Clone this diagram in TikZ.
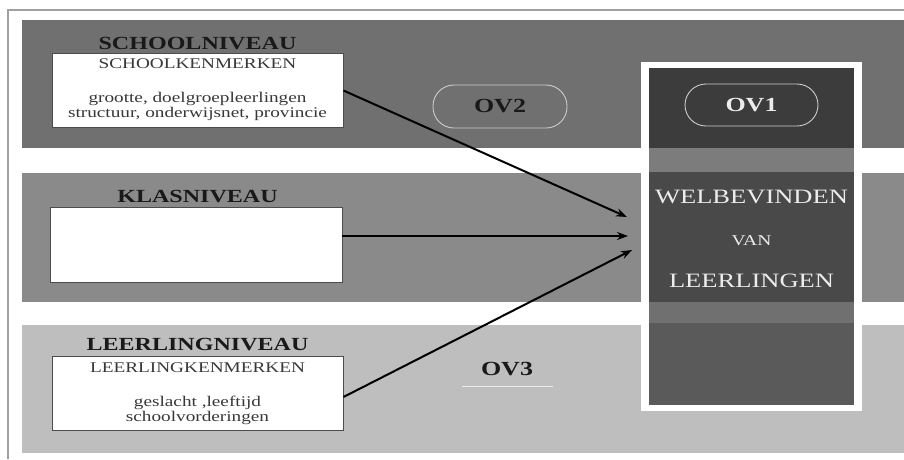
\documentclass[tikz,border=0pt]{standalone}
\usepackage{fontspec}
\setmainfont{Liberation Serif}[FakeStretch=1.3]
\usetikzlibrary{arrows.meta}

\definecolor{framegray}{HTML}{A0A0A0}
\definecolor{bandschool}{HTML}{707070}
\definecolor{bandklas}{HTML}{8A8A8A}
\definecolor{bandleerling}{HTML}{BEBEBE}
\definecolor{coreA}{HTML}{3C3C3C}
\definecolor{coreStripA}{HTML}{7C7C7C}
\definecolor{coreB}{HTML}{494949}
\definecolor{coreStripB}{HTML}{707070}
\definecolor{coreC}{HTML}{5A5A5A}
\definecolor{boxtext}{HTML}{383838}
\definecolor{lighttext}{HTML}{ECECEC}

\tikzset{
  kbox/.style={draw=black!70, line width=0.9pt, fill=white, inner sep=0pt},
  leveltitle/.style={anchor=base, font=\fontsize{18.5}{20}\selectfont\bfseries, text=black!90},
  boxline/.style={anchor=base, font=\fontsize{14.8}{16}\selectfont, text=boxtext},
  coretext/.style={anchor=base, font=\fontsize{20.4}{22}\selectfont, text=lighttext},
  ovpill/.style={rounded corners=21pt, line width=0.9pt, inner sep=0pt,
                 font=\fontsize{20}{22}\selectfont\bfseries},
  flow/.style={line width=2pt, -{Stealth[length=11pt,width=8pt]}}
}

\begin{document}
\begin{tikzpicture}[x=1pt,y=-1pt]
\useasboundingbox (0,0) rectangle (904,459);
\fill[white] (0,0) rectangle (904,459);

% outer frame
\draw[framegray, line width=1.2pt] (8,459) -- (8,10) -- (904,10);

% the three level bands
\fill[bandschool]   (22,20)  rectangle (904,148);
\fill[bandklas]     (22,173) rectangle (904,302);
\fill[bandleerling] (22,325) rectangle (904,453);

% central outcome column
\fill[white]      (641,62)  rectangle (862,411);
\fill[coreA]      (649,68)  rectangle (854,148);
\fill[coreStripA] (649,148) rectangle (854,172);
\fill[coreB]      (649,172) rectangle (854,302);
\fill[coreStripB] (649,302) rectangle (854,323);
\fill[coreC]      (649,323) rectangle (854,405);

% level titles
\node[leveltitle] (tschool)   at (197.5,49)    {SCHOOLNIVEAU};
\node[leveltitle] (tklas)     at (197.5,202.5) {KLASNIVEAU};
\node[leveltitle] (tleerling) at (197.5,350.5) {LEERLINGNIVEAU};

% characteristic boxes
\node[kbox, minimum width=291pt, minimum height=74pt] (school)   at (197.5,90.5) {};
\node[kbox, minimum width=292pt, minimum height=75pt] (klas)     at (196,244.5)  {};
\node[kbox, minimum width=291pt, minimum height=74pt] (leerling) at (197.5,393.5) {};

\node[boxline] (s1) at (197.5,68.3)  {SCHOOLKENMERKEN};
\node[boxline] (s2) at (197.5,102.3) {grootte, doelgroepleerlingen};
\node[boxline] (s3) at (197.5,117.5) {structuur, onderwijsnet, provincie};

\node[boxline] (l1) at (197.5,372.3) {LEERLINGKENMERKEN};
\node[boxline] (l2) at (197.5,406)   {geslacht ,leeftijd};
\node[boxline] (l3) at (197.5,421.7) {schoolvorderingen};

% outcome labels
\node[ovpill, draw=black!20, text=lighttext, minimum width=133pt, minimum height=42pt]
  (ov1) at (751.5,105) {OV1};
\node[ovpill, draw=black!20, text=black!90, minimum width=134pt, minimum height=43pt]
  (ov2) at (500,106.5) {OV2};
\node[anchor=base, font=\fontsize{20}{22}\selectfont\bfseries, text=black!90]
  (ov3) at (507,375) {OV3};
\draw[white!92!black, line width=1.2pt] (462,386.7) -- (553,386.7);

\node[coretext] (w1) at (751.5,203.3) {WELBEVINDEN};
\node[coretext, font=\fontsize{15}{16}\selectfont] (w2) at (751.5,245) {VAN};
\node[coretext] (w3) at (751.5,287.3) {LEERLINGEN};

% arrow targets in front of the column
\coordinate (t1) at (627,217);
\coordinate (t2) at (628,236);
\coordinate (t3) at (632,250);

\draw[flow] (school.east) -- (t1);
\draw[flow] ([yshift=8.5pt]klas.east) -- (t2);
\draw[flow] ([yshift=-3.5pt]leerling.east) -- (t3);
\end{tikzpicture}
\end{document}
